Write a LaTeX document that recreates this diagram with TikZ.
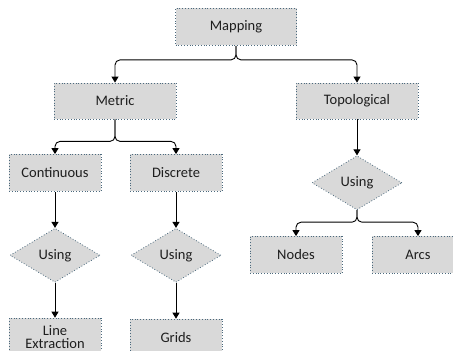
\documentclass[tikz,border=0pt]{standalone}
\usepackage{fontspec}
\setmainfont{Carlito}
\usetikzlibrary{arrows.meta, positioning, shapes.geometric}

\definecolor{boxfill}{RGB}{217,217,217}
\definecolor{boxline}{RGB}{75,105,125}
\definecolor{txt}{RGB}{30,30,30}

\begin{document}
\begin{tikzpicture}[
    x=1pt, y=1pt,
    node distance=36pt and 30pt,
    box/.style={rectangle, draw=boxline, dotted, line width=0.8pt, fill=boxfill, minimum width=92pt, minimum height=37pt, inner sep=1pt, align=center, text=txt},
    wide/.style={box, minimum width=122pt, minimum height=36pt},
    choice/.style={diamond, draw=boxline, dotted, line width=0.8pt, fill=boxfill, aspect=1.67, minimum width=90pt, minimum height=54pt, inner sep=0pt, text=txt},
    arrow/.style={-{Triangle[length=6pt, width=7pt]}, line width=0.9pt, rounded corners=5pt},
    font=\fontsize{14.5}{16}\selectfont
]
\useasboundingbox (0,0) rectangle (453,351);
\clip (0,0) rectangle (453,351);

% Root
\node[box, minimum width=121pt] (mapping) at (236, 324) {Mapping};

% Metric branch
\node[wide] (metric) at (115, 250) {Metric};
\node[box] (cont) at (55, 178) {Continuous};
\node[box] (disc) at (176, 178) {Discrete};
\node[choice, below=of cont] (using1) {Using};
\node[choice, below=of disc] (using2) {Using};
\node[box, below=35pt of using1, anchor=north] (line) {Line\\[-3pt]Extraction};
\node[box, below=of using2] (grids) {Grids};

% Topological branch
\node[wide] (topo) at (357, 250) {Topological};
\node[choice, below=of topo] (using3) {Using};
\node[box] (nodes) at (296, 96) {Nodes};
\node[box] (arcs) at (418, 96) {Arcs};

% Arrows
\draw[arrow] (mapping.south) -- ++(0,-14) -| (metric.north);
\draw[arrow] (mapping.south) -- ++(0,-14) -| (topo.north);
\draw[arrow] (metric.south) -- ++(0,-22) -| (cont.north);
\draw[arrow] (metric.south) -- ++(0,-22) -| (disc.north);
\draw[arrow] (cont) -- (using1);
\draw[arrow] (disc) -- (using2);
\draw[arrow] (using1) -- (line);
\draw[arrow] (using2) -- (grids);
\draw[arrow] (topo) -- (using3);
\draw[arrow] (using3.south) -- ++(0,-12) -| (nodes.north);
\draw[arrow] (using3.south) -- ++(0,-12) -| (arcs.north);

\end{tikzpicture}
\end{document}
